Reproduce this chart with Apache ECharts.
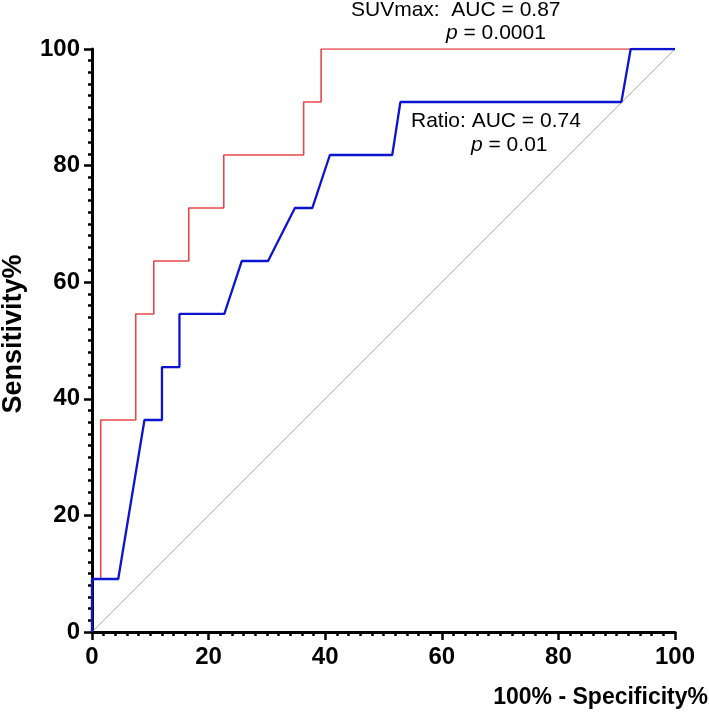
<!DOCTYPE html>
<html>
<head>
<meta charset="utf-8">
<script src="https://cdn.jsdelivr.net/npm/echarts@6/dist/echarts.min.js"></script>
<style>html,body{margin:0;padding:0;background:#fff}#c{width:709px;height:714px}</style>
</head>
<body>
<div id="c"></div>
<script>
// ROC curve data (x = 100% - Specificity%, y = Sensitivity%)
const suvX = [0, 0, 1.5, 1.5, 7.5, 7.5, 10.6, 10.6, 16.6, 16.6, 22.6, 22.6, 36.3, 36.3, 39.3, 39.3, 100];
const suvY = [0, 9.09, 9.09, 36.36, 36.36, 54.55, 54.55, 63.64, 63.64, 72.73, 72.73, 81.82, 81.82, 90.91, 90.91, 100, 100];
const ratioX = [0, 0, 4.5, 9.0, 12.0, 12.0, 15.0, 15.0, 22.7, 25.7, 30.2, 34.8, 37.8, 40.8, 51.5, 52.9, 90.8, 92.4, 100];
const ratioY = [0, 9.09, 9.09, 36.36, 36.36, 45.45, 45.45, 54.55, 54.55, 63.64, 63.64, 72.73, 72.73, 81.82, 81.82, 90.91, 90.91, 100, 100];
const refX = [0, 100];
const refY = [0, 100];
const tickLabels = [0, 20, 40, 60, 80, 100];
const xTitle = '100% - Specificity%';
const yTitle = 'Sensitivity%';
const notes = [
  {text: 'SUVmax:  AUC = 0.87', x: 351, y: 10},
  {text: '{i|p} = 0.0001', x: 446, y: 33},
  {text: 'Ratio: AUC = 0.74', x: 411, y: 121},
  {text: '{i|p} = 0.01', x: 471, y: 145}
];

const zip = (a, b) => a.map((v, i) => [v, b[i]]);
const FONT = 'Liberation Sans, Arial, Helvetica, sans-serif';

const axisCommon = {
  type: 'value', min: 0, max: 100, interval: 20,
  axisLine: {show: true, onZero: false, lineStyle: {color: '#000', width: 3}},
  axisTick: {show: true, inside: false, length: 8, lineStyle: {color: '#000', width: 2.5}},
  minorTick: {show: true, splitNumber: 10, length: 4, lineStyle: {color: '#000', width: 2.5}},
  splitLine: {show: false},
  axisLabel: {
    color: '#000', fontSize: 24, fontWeight: 'bold', fontFamily: FONT,
    formatter: v => tickLabels.includes(v) ? String(v) : ''
  }
};

const chart = echarts.init(document.getElementById('c'), null, {renderer: 'canvas'});
chart.setOption({
  animation: false,
  backgroundColor: '#fff',
  grid: {left: 92, right: 34, top: 49, bottom: 82, containLabel: false, outerBoundsMode: 'none'},
  xAxis: Object.assign({}, axisCommon, {
    axisLabel: Object.assign({}, axisCommon.axisLabel, {margin: 13})
  }),
  yAxis: Object.assign({}, axisCommon, {
    axisLabel: Object.assign({}, axisCommon.axisLabel, {margin: 12})
  }),
  series: [
    {type: 'line', data: zip(refX, refY), symbol: 'none', silent: true,
     lineStyle: {color: '#9a9a9a', width: 0.8}, z: 1},
    {type: 'line', name: 'SUVmax', data: zip(suvX, suvY), symbol: 'none',
     lineStyle: {color: '#e5484b', width: 1.6}, z: 2},
    {type: 'line', name: 'Ratio', data: zip(ratioX, ratioY), symbol: 'none',
     lineStyle: {color: '#0c14cf', width: 2.3}, z: 3}
  ],
  graphic: [
    {type: 'text', x: 708, y: 698, style: {
      text: xTitle, align: 'right', verticalAlign: 'middle',
      fill: '#000', font: 'bold 23px ' + FONT}},
    {type: 'text', x: 14, y: 334, rotation: Math.PI / 2, style: {
      text: yTitle, align: 'center', verticalAlign: 'middle',
      fill: '#000', font: 'bold 27px ' + FONT}}
  ].concat(notes.map(n => ({
    type: 'text', x: n.x, y: n.y, style: {
      text: n.text, align: 'left', verticalAlign: 'middle',
      fill: '#000', font: '21px ' + FONT,
      rich: {i: {fontStyle: 'italic', fontSize: 21, fontFamily: FONT, fill: '#000'}}
    }
  })))
});
</script>
</body>
</html>
